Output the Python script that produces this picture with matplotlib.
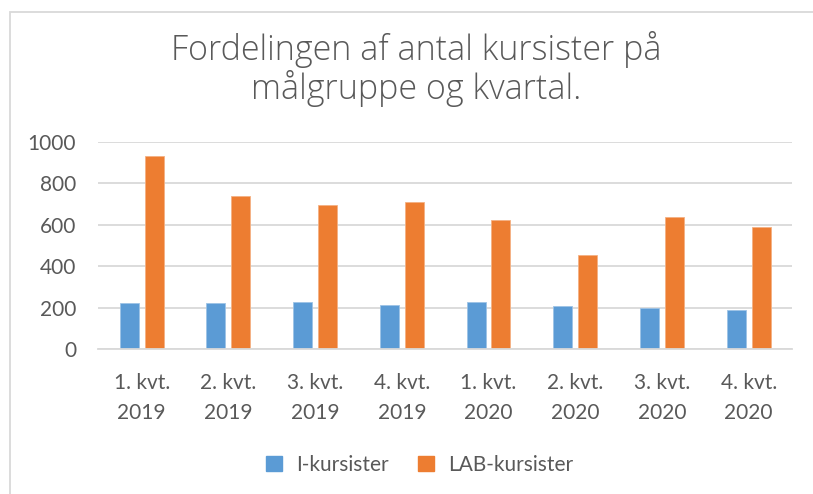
import matplotlib
matplotlib.use("Agg")
import matplotlib.pyplot as plt
import numpy as np
from matplotlib.patches import Rectangle, Patch

categories = ["1. kvt.\n2019", "2. kvt.\n2019", "3. kvt.\n2019", "4. kvt.\n2019",
              "1. kvt.\n2020", "2. kvt.\n2020", "3. kvt.\n2020", "4. kvt.\n2020"]
i_kursister = [225, 225, 228, 213, 230, 211, 198, 189]
lab_kursister = [932, 738, 696, 711, 625, 455, 636, 592]
series_names = ["I-kursister", "LAB-kursister"]
yticks = [0, 200, 400, 600, 800, 1000]

blue = "#5B9BD5"
orange = "#ED7D31"
txt = "#595959"
grid = "#D9D9D9"

W, H = 813, 494
fig = plt.figure(figsize=(W / 100, H / 100), dpi=100)
fig.patch.set_facecolor("white")

# chart area border (cropped)
fig.add_artist(Rectangle((10 / W, -0.1), 1.2, 1 - 12 / H + 0.1, transform=fig.transFigure,
                         fill=False, edgecolor=grid, linewidth=1.3))

ax = fig.add_axes([98.3 / W, 1 - 349.3 / H, (792 - 98.3) / W, (349.3 - 142) / H])
x = np.arange(len(categories))
bw = 0.219
off = 0.144
ax.bar(x - off, i_kursister, bw, color=blue, edgecolor="#9DC3E6", linewidth=0.6, zorder=3)
ax.bar(x + off, lab_kursister, bw, color=orange, edgecolor="#F4B183", linewidth=0.6, zorder=3)

ax.set_xlim(-0.5, len(categories) - 0.5)
ax.set_ylim(0, 1000)
ax.set_yticks(yticks)
ax.set_yticklabels([str(v) for v in yticks], fontsize=15, color=txt, family="Lato")
ax.set_xticks(x)
ax.set_xticklabels(categories, fontsize=15, color=txt, family="Lato", linespacing=1.65)
ax.tick_params(axis="both", length=0)
ax.tick_params(axis="y", pad=16)
ax.tick_params(axis="x", pad=17)
ax.yaxis.grid(True, color=grid, linewidth=1.3, zorder=0)
for s in ["top", "right", "left"]:
    ax.spines[s].set_visible(False)
ax.spines["bottom"].set_color(grid)
ax.spines["bottom"].set_linewidth(1.3)
ax.spines["bottom"].set_zorder(4)

fig.text(416 / W, 1 - 69 / H, "Fordelingen af antal kursister på\nmålgruppe og kvartal.",
         ha="center", va="center", fontsize=24.5, color=txt, family="Open Sans",
         fontweight="light", linespacing=1.06)

handles = [Patch(facecolor=blue, edgecolor=blue), Patch(facecolor=orange, edgecolor=orange)]
fig.legend(handles, series_names, loc="center", bbox_to_anchor=(420 / W, 1 - 465 / H),
           ncol=2, frameon=False, labelcolor=txt, prop={"family": "Lato", "size": 15},
           handlelength=0.75, handleheight=0.75, handletextpad=0.7, columnspacing=1.4)

fig.savefig("out.png", dpi=100, facecolor="white")
